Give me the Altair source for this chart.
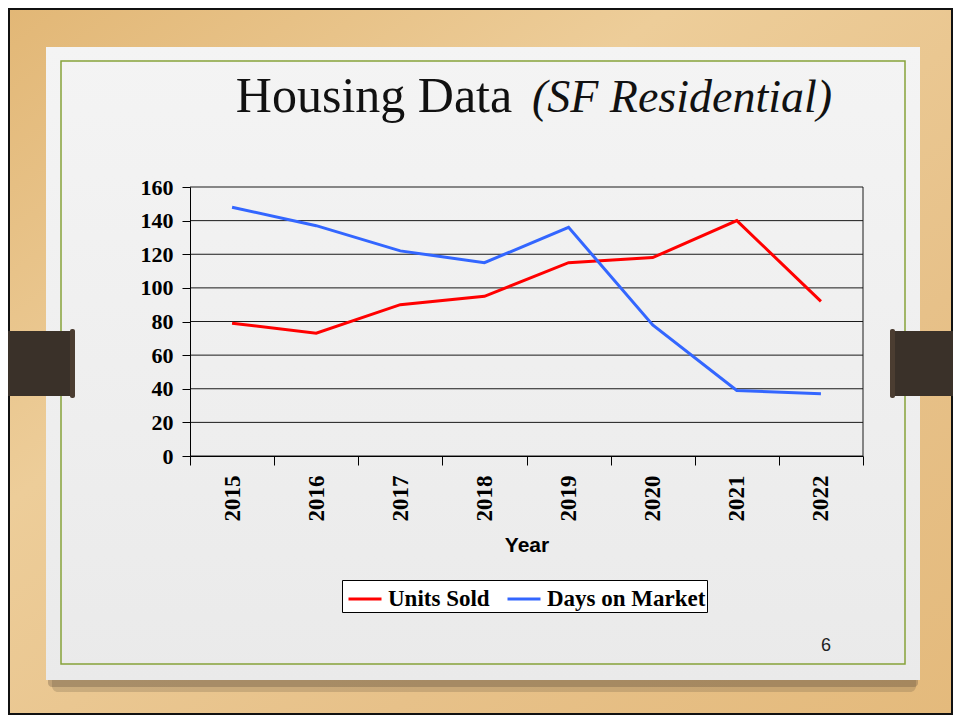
import altair as alt
import pandas as pd

# ---- data ----
years = ["2015", "2016", "2017", "2018", "2019", "2020", "2021", "2022"]
units_sold = [79, 73, 90, 95, 115, 118, 140, 92]
days_on_market = [148, 137, 122, 115, 136, 78, 39, 37]
series_names = ["Units Sold", "Days on Market"]
series_colors = ["#FF0000", "#3366FF"]
y_ticks = [0, 20, 40, 60, 80, 100, 120, 140, 160]

rows = []
for i, yr in enumerate(years):
    rows.append({"Year": yr, "Series": series_names[0], "Value": units_sold[i]})
    rows.append({"Year": yr, "Series": series_names[1], "Value": days_on_market[i]})
df = pd.DataFrame(rows)
grid_df = pd.DataFrame({"Value": y_ticks})

# ---- layout (plot area = view) ----
W, H = 673, 269
X0, Y0 = 190, 187  # page position of view origin


def vx(px):
    return px - X0


def vy(py):
    return py - Y0


one = pd.DataFrame({"d": [0]})


def rect(x1, y1, x2, y2, **kw):
    return alt.Chart(one).mark_rect(**kw).encode(
        x=alt.value(vx(x1)), x2=alt.value(vx(x2)),
        y=alt.value(vy(y1)), y2=alt.value(vy(y2)))


def text(txt, px, py, **kw):
    return alt.Chart(one).mark_text(text=txt, **kw).encode(
        x=alt.value(vx(px)), y=alt.value(vy(py)))


wood = rect(8, 8, 953, 715, color=alt.Gradient(
    gradient="linear", x1=0, y1=0, x2=1, y2=1,
    stops=[alt.GradientStop(color="#E2B776", offset=0),
           alt.GradientStop(color="#EDCD99", offset=0.35),
           alt.GradientStop(color="#E7C189", offset=0.7),
           alt.GradientStop(color="#E4BA7C", offset=1)]))
frame = rect(9, 9, 952, 714, filled=False, stroke="#111111", strokeWidth=2)
shadow1 = rect(52, 668, 916, 692, color="#6B5A45", opacity=0.25, cornerRadius=6)
shadow2 = rect(48, 672, 918, 687, color="#5A4A38", opacity=0.3, cornerRadius=4)
slide = rect(46, 47, 920, 680, color=alt.Gradient(
    gradient="linear", x1=0, y1=0, x2=0, y2=1,
    stops=[alt.GradientStop(color="#F4F4F4", offset=0),
           alt.GradientStop(color="#EAEAEA", offset=1)]))
green = rect(61, 61, 905, 664, filled=False, stroke="#86A33A", strokeWidth=1.5)
tab_l = rect(8, 331, 73, 396, color="#3A3129")
knob_l = rect(70, 329, 75, 398, color="#4B3D31", cornerRadius=2)
tab_r = rect(892, 331, 953, 396, color="#3A3129")
knob_r = rect(890, 329, 895, 398, color="#4B3D31", cornerRadius=2)

title1 = text("Housing Data", 374, 112, font="Liberation Serif", fontSize=50,
              align="center", baseline="alphabetic", color="#111111")
title2 = text("(SF Residential)", 682, 112, font="Liberation Serif", fontSize=46,
              fontStyle="italic", align="center", baseline="alphabetic",
              color="#111111")
page_no = text("6", 826, 651, font="Liberation Sans", fontSize=18,
               align="center", baseline="alphabetic", color="#222222")

y_scale = alt.Scale(domain=[0, 160], nice=False, zero=True)
y_axis = alt.Axis(title=None, values=y_ticks, labelFont="Liberation Serif",
                  labelFontWeight="bold", labelFontSize=22, labelColor="#000000",
                  tickSize=8, tickColor="#000000", labelPadding=9,
                  domainColor="#000000", grid=False, zindex=1)

grid = alt.Chart(grid_df).mark_rule(color="#1A1A1A", strokeWidth=1).encode(
    y=alt.Y("Value:Q", scale=y_scale, axis=y_axis))
right_border = alt.Chart(one).mark_rule(color="#1A1A1A", strokeWidth=1).encode(
    x=alt.value(W), y=alt.value(0), y2=alt.value(H))

lines = alt.Chart(df).mark_line(strokeWidth=3).encode(
    x=alt.X("Year:O", sort=years, bandPosition=0.5,
            scale=alt.Scale(type="band", paddingInner=0, paddingOuter=0),
            axis=alt.Axis(title="Year", labelAngle=-90, labelFont="Liberation Serif",
                          labelFontWeight="bold", labelFontSize=23, labelColor="#000000",
                          tickSize=9, tickColor="#000000", labelPadding=10,
                          tickBand="extent", domainColor="#000000", grid=False,
                          titleFont="Liberation Sans", titleFontWeight="bold",
                          titleFontSize=21, titleColor="#000000", titlePadding=13,
                          zindex=1)),
    y=alt.Y("Value:Q", scale=y_scale, axis=y_axis),
    color=alt.Color("Series:N", sort=series_names,
                    scale=alt.Scale(domain=series_names, range=series_colors),
                    legend=alt.Legend(title=None, orient="none", legendX=152,
                                      legendY=393, direction="horizontal",
                                      fillColor="#FFFFFF", strokeColor="#000000",
                                      padding=1, labelFont="Liberation Serif",
                                      labelFontWeight="bold", labelFontSize=23,
                                      labelColor="#000000", symbolType="stroke",
                                      symbolSize=1089, symbolStrokeWidth=3,
                                      symbolOffset=4, labelOffset=5,
                                      columnPadding=11, labelLimit=400)),
    detail="Series:N")

chart = alt.layer(
    wood, frame, shadow1, shadow2, slide, green, tab_l, knob_l, tab_r, knob_r,
    title1, title2, page_no, grid, right_border, lines
).properties(
    width=W, height=H,
    autosize=alt.AutoSizeParams(type="none"),
    padding={"left": 182, "top": 179, "right": 90, "bottom": 259},
).configure_view(stroke=None).configure(background="#E6C088")

chart.save("out.html", embed_options={"renderer": "svg", "actions": False})
